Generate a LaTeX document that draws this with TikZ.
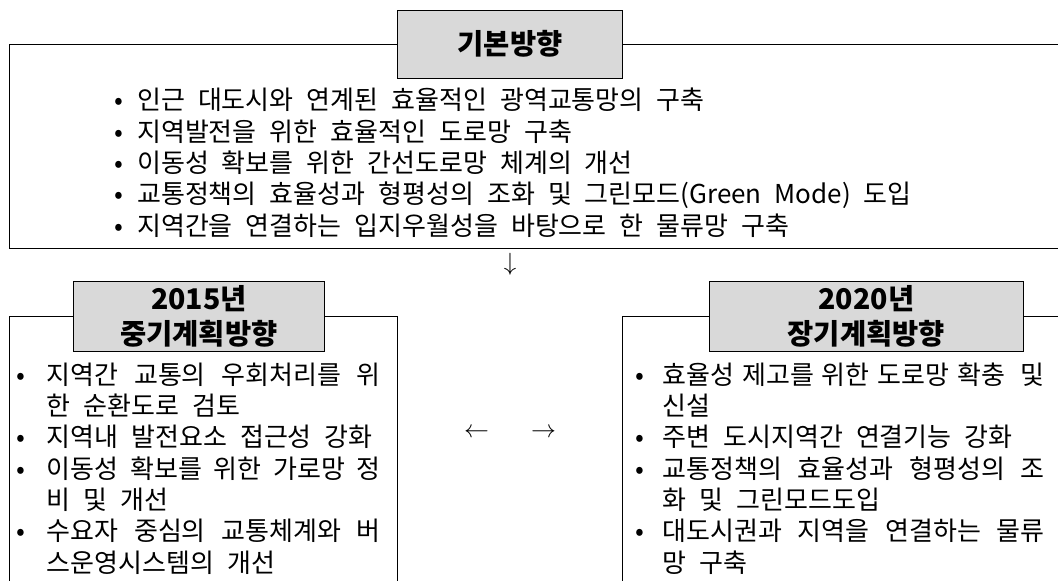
\documentclass[tikz,border=0pt]{standalone}
\usepackage{fontspec}
\usetikzlibrary{positioning}
\newfontfamily\kr{Noto Sans CJK KR}
\definecolor{titlegray}{HTML}{D9D9D9}
% bullet with gap, continuation indent, justified line
\newcommand\bul[1]{\makebox[20pt]{•}\hspace*{#1}}
\newcommand\cont[1]{\hspace*{#1}}
\newcommand\jl[2]{\makebox[#1][s]{#2}}

\begin{document}
\begin{tikzpicture}[x=1pt, y=-1pt,
    body/.style={font={\kr\fontsize{26}{31.3}\selectfont\spaceskip=0.5em plus 1em minus 0.3em\relax},
      inner sep=0pt, align=left, anchor=base west},
    ttl/.style={draw, fill=titlegray, line width=0.8pt, inner sep=0pt, align=center,
      font={\kr\bfseries\fontsize{28.5}{35}\selectfont}},
    frame/.style={line width=0.8pt},
    sym/.style={inner sep=0pt, font=\fontsize{25}{25}\selectfont}]
  \useasboundingbox (0,0) rectangle (1058,581);
  % frames
  \draw[frame] (1058,44.3) -- (9.3,44.3) -- (9.3,248.3) -- (1058,248.3);
  \draw[frame] (9.3,581) -- (9.3,316) -- (397.7,316) -- (397.7,581);
  \draw[frame] (622,581) -- (622,316) -- (1058,316);
  % titles
  \node[ttl, minimum width=224.6pt, minimum height=68.3pt] (basic) at (510,44.2) {기본방향};
  \node[ttl, minimum width=251.7pt, minimum height=69.3pt] (mid) at (198.9,316.4) {2015년\\중기계획방향};
  \node[ttl, minimum width=314pt, minimum height=69.3pt] (long) at (866.4,316.4) {2020년\\장기계획방향};
  % items (anchored at the last line)
  \node[body] (basicitems) at (108.8,235) {\bul{8.2pt}인근 대도시와 연계된 효율적인 광역교통망의 구축\\
    \bul{8.2pt}지역발전을 위한 효율적인 도로망 구축\\
    \bul{8.2pt}이동성 확보를 위한 간선도로망 체계의 개선\\
    \bul{8.2pt}교통정책의 효율성과 형평성의 조화 및 그린모드(Green Mode) 도입\\
    \bul{8.2pt}지역간을 연결하는 입지우월성을 바탕으로 한 물류망 구축};
  \node[body] (miditems) at (10.7,572) {\bul{15.8pt}\jl{334pt}{지역간 교통의 우회처리를 위}\\
    \cont{35.8pt}한 순환도로 검토\\
    \bul{15.8pt}지역내 발전요소 접근성 강화\\
    \bul{15.8pt}\jl{334pt}{이동성 확보를 위한 가로망 정}\\
    \cont{35.8pt}비 및 개선\\
    \bul{15.8pt}\jl{334pt}{수요자 중심의 교통체계와 버}\\
    \cont{35.8pt}스운영시스템의 개선};
  \node[body] (longitems) at (630,572) {\bul{12.4pt}\jl{382pt}{효율성 제고를 위한 도로망 확충~ 및}\\
    \cont{32.4pt}신설\\
    \bul{12.4pt}주변 도시지역간 연결기능 강화\\
    \bul{12.4pt}\jl{382pt}{교통정책의 효율성과 형평성의 조}\\
    \cont{32.4pt}화 및 그린모드도입\\
    \bul{12.4pt}\jl{382pt}{대도시권과 지역을 연결하는 물류}\\
    \cont{32.4pt}망 구축};
  % arrows between parts
  \node[sym] (down) at (510,264) {$\downarrow$};
  \node[sym] (back) at (476.5,433) {$\leftarrow$};
  \node[sym] (ahead) at (543.5,433) {$\rightarrow$};
\end{tikzpicture}
\end{document}
